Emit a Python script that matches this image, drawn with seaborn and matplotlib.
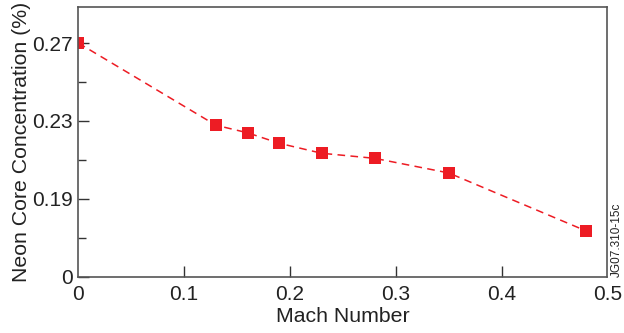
import numpy as np
import pandas as pd
import matplotlib
matplotlib.use("Agg")
import matplotlib.pyplot as plt
import seaborn as sns

# values
mach = [0.0, 0.13, 0.16, 0.19, 0.23, 0.28, 0.35, 0.48]
neon = [0.270, 0.2278, 0.2239, 0.2185, 0.2134, 0.2108, 0.2033, 0.1735]

y_major = [0.15, 0.19, 0.23, 0.27]
y_major_labels = ["0", "0.19", "0.23", "0.27"]
y_minor = [0.17, 0.21, 0.25]
x_ticks = [0, 0.1, 0.2, 0.3, 0.4, 0.5]
x_labels = ["0", "0.1", "0.2", "0.3", "0.4", "0.5"]

df = pd.DataFrame({"Mach Number": mach, "Neon": neon})

sns.set_style("ticks")
plt.rcParams["font.family"] = ["Liberation Sans", "DejaVu Sans"]

red = "#ED1C24"
fig = plt.figure(figsize=(6.24, 3.33), dpi=100)
ax = fig.add_axes([0.1255, 0.169, 0.8478, 0.81])

sns.lineplot(data=df, x="Mach Number", y="Neon", ax=ax, color=red,
             linestyle=(0, (5, 3.5)), linewidth=1.1,
             marker="s", markersize=9, markeredgewidth=0, markerfacecolor=red)

ax.set_xlim(0, 0.5)
ax.set_ylim(0.15, 0.2885)
ax.set_xticks(x_ticks)
ax.set_xticklabels(x_labels)
ax.set_yticks(y_major)
ax.set_yticklabels(y_major_labels)
ax.set_yticks(y_minor, minor=True)

ax.tick_params(axis="both", which="both", direction="in", colors="#333333",
               labelcolor="#222222", labelsize=15, width=1)
ax.tick_params(axis="x", which="major", length=8, pad=6)
ax.tick_params(axis="y", which="major", length=8, pad=4)
ax.tick_params(axis="y", which="minor", length=6)
ax.xaxis.get_majorticklines()[0].set_visible(False)
ax.xaxis.get_majorticklines()[-2].set_visible(False)

for s in ax.spines.values():
    s.set_color("#555555")
    s.set_linewidth(1.2)

ax.set_xlabel("Mach Number", fontsize=15.3, color="#222222", labelpad=2)
ax.set_ylabel("Neon Core Concentration (%)", fontsize=15.3, color="#222222", labelpad=1)

fig.text(0.989, 0.168, "JG07.310-15c", rotation=90, fontsize=8.5,
         ha="center", va="bottom", color="#222222")

fig.savefig("out.png", dpi=100)
